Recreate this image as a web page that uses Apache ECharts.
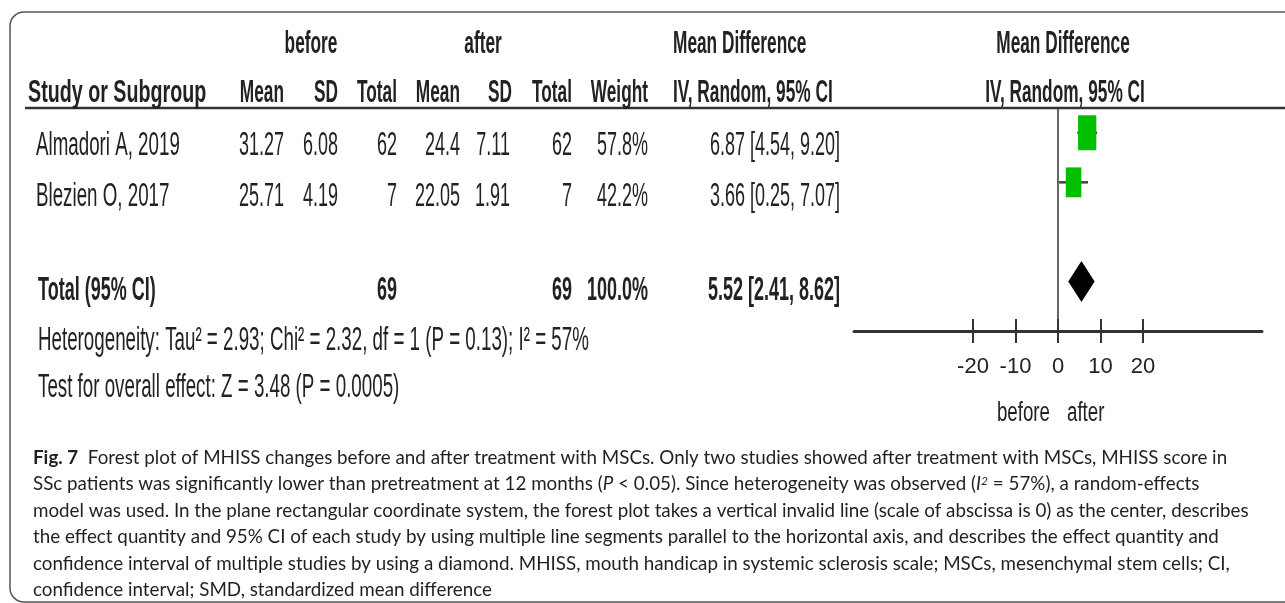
<!DOCTYPE html>
<html>
<head>
<meta charset="utf-8">
<script src="https://cdn.jsdelivr.net/npm/echarts@6/dist/echarts.min.js"></script>
<style>
  html, body { margin: 0; padding: 0; background: #fff; }
  #chart { width: 1285px; height: 603px; }
</style>
</head>
<body>
<div id="chart"></div>
<script>
// study data
const studies = ['Almadori A, 2019', 'Blezien O, 2017'];
const beforeMean = [31.27, 25.71];
const beforeSD = [6.08, 4.19];
const beforeTotal = [62, 7];
const afterMean = [24.4, 22.05];
const afterSD = [7.11, 1.91];
const afterTotal = [62, 7];
const weights = [57.8, 42.2];
const meanDiff = [6.87, 3.66];
const ciLow = [4.54, 0.25];
const ciHigh = [9.20, 7.07];

// pooled result
const pooled = [5.52, 2.41, 8.62]; // estimate, low, high
const pooledBefore = 69;
const pooledAfter = 69;
const pooledWeight = 100.0;
const heterogeneity = 'Heterogeneity: Tau² = 2.93; Chi² = 2.32, df = 1 (P = 0.13); I² = 57%';
const overallTest = 'Test for overall effect: Z = 3.48 (P = 0.0005)';

// axis
const xTicks = [-20, -10, 0, 10, 20];
const studyRows = [0, 1];
const totalRow = 3;

const captionLines = [
  '{b|Fig. 7}  Forest plot of MHISS changes before and after treatment with MSCs. Only two studies showed after treatment with MSCs, MHISS score in',
  'SSc patients was significantly lower than pretreatment at 12 months ({i|P} < 0.05). Since heterogeneity was observed ({i|I}{sup|2} = 57%), a random-effects',
  'model was used. In the plane rectangular coordinate system, the forest plot takes a vertical invalid line (scale of abscissa is 0) as the center, describes',
  'the effect quantity and 95% CI of each study by using multiple line segments parallel to the horizontal axis, and describes the effect quantity and',
  'confidence interval of multiple studies by using a diamond. MHISS, mouth handicap in systemic sclerosis scale; MSCs, mesenchymal stem cells; CI,',
  'confidence interval; SMD, standardized mean difference'
];

const chart = echarts.init(document.getElementById('chart'));

// 表格文字 (condensed + stretched like the picture)
const SX = 0.72, SY = 1.34;
const cell = (text, x, y, align, bold, size, sx) => ({
  type: 'text',
  x: x, y: y,
  scaleX: sx || SX, scaleY: SY,
  z: 10,
  style: {
    text: String(text),
    fontFamily: 'Liberation Sans',
    fontSize: size || (bold ? 24 : 25),
    fontWeight: bold ? 'bold' : 'normal',
    fill: '#222',
    align: align,
    verticalAlign: 'middle'
  }
});

// column anchors
const colX = { study: 30, bMean: 284, bSD: 338, bTot: 397, aMean: 460, aSD: 510, aTot: 572, weight: 648, ci: 840 };
const rowY = [146, 197];
const totalY = 291;

const elements = [];
// frame
elements.push({
  type: 'rect', z: 1,
  shape: { x: 10, y: 12, width: 1310, height: 590, r: 14 },
  style: { fill: 'none', stroke: '#555', lineWidth: 1.5 }
});
// header rule
elements.push({
  type: 'line', z: 5,
  shape: { x1: 25, y1: 108, x2: 1285, y2: 108 },
  style: { stroke: '#333', lineWidth: 2.5 }
});

// headers
elements.push(cell('before', 311, 44, 'center', true));
elements.push(cell('after', 483, 44, 'center', true));
elements.push(cell('Mean Difference', 673, 44, 'left', true));
elements.push(cell('Mean Difference', 1063, 44, 'center', true));
const headY = 93;
elements.push(cell('Study or Subgroup', 28, headY, 'left', true, 24, 0.82));
elements.push(cell('Mean', colX.bMean, headY, 'right', true));
elements.push(cell('SD', colX.bSD, headY, 'right', true));
elements.push(cell('Total', colX.bTot, headY, 'right', true));
elements.push(cell('Mean', colX.aMean, headY, 'right', true));
elements.push(cell('SD', 512, headY, 'right', true));
elements.push(cell('Total', colX.aTot, headY, 'right', true));
elements.push(cell('Weight', colX.weight, headY, 'right', true));
elements.push(cell('IV, Random, 95% CI', 673, headY, 'left', true));
elements.push(cell('IV, Random, 95% CI', 1065, headY, 'center', true));

// study rows
const fmtCI = (m, lo, hi) => m.toFixed(2) + ' [' + lo.toFixed(2) + ', ' + hi.toFixed(2) + ']';
studies.forEach((name, i) => {
  const y = rowY[i];
  elements.push(cell(name, 36, y, 'left', false, 25, 0.75));
  elements.push(cell(beforeMean[i], colX.bMean, y, 'right'));
  elements.push(cell(beforeSD[i].toFixed(2), colX.bSD, y, 'right'));
  elements.push(cell(beforeTotal[i], colX.bTot, y, 'right'));
  elements.push(cell(afterMean[i], colX.aMean, y, 'right'));
  elements.push(cell(afterSD[i].toFixed(2), colX.aSD, y, 'right'));
  elements.push(cell(afterTotal[i], colX.aTot, y, 'right'));
  elements.push(cell(weights[i].toFixed(1) + '%', colX.weight, y, 'right'));
  elements.push(cell(fmtCI(meanDiff[i], ciLow[i], ciHigh[i]), colX.ci, y, 'right'));
});

// total row
elements.push(cell('Total (95% CI)', 38, totalY, 'left', true, 25));
elements.push(cell(pooledBefore, colX.bTot, totalY, 'right', true, 25));
elements.push(cell(pooledAfter, colX.aTot, totalY, 'right', true, 25));
elements.push(cell(pooledWeight.toFixed(1) + '%', colX.weight, totalY, 'right', true, 25));
elements.push(cell(fmtCI(pooled[0], pooled[1], pooled[2]), colX.ci, totalY, 'right', true, 25));
elements.push(cell(heterogeneity, 38, 341, 'left', false, 25, 0.75));
elements.push(cell(overallTest, 38, 388, 'left', false, 25, 0.75));

// favours labels under the axis
const favour = (text, x, align) => ({
  type: 'text', x: x, y: 413, scaleX: 0.72, scaleY: 1.05, z: 10,
  style: { text: text, fontFamily: 'Liberation Sans', fontSize: 26, fill: '#222', align: align, verticalAlign: 'middle' }
});
elements.push(favour('before', 1050, 'right'));
elements.push(favour('after', 1067, 'left'));

// caption
const capFont = 18.8;
captionLines.forEach((line, i) => {
  elements.push({
    type: 'text', x: 33, y: 458 + i * 26.4, z: 10,
    style: {
      text: line,
      fontFamily: 'Lato',
      fontSize: capFont,
      fill: '#231f20',
      verticalAlign: 'middle',
      rich: {
        b: { fontFamily: 'Lato', fontSize: capFont, fontWeight: 'bold', fill: '#231f20' },
        i: { fontFamily: 'Lato', fontSize: capFont, fontStyle: 'italic', fill: '#231f20' },
        sup: { fontFamily: 'Lato', fontSize: 12, fontStyle: 'italic', fill: '#231f20', verticalAlign: 'top' }
      }
    }
  });
});

const axisCommon = {
  type: 'value',
  min: -48,
  max: 48,
  position: 'bottom',
  splitLine: { show: false }
};

chart.setOption({
  animation: false,
  grid: { left: 854, top: 108, width: 408, height: 223 },
  xAxis: [
    Object.assign({}, axisCommon, {
      axisLine: { show: true, onZero: false, lineStyle: { color: '#333', width: 3 } },
      axisTick: { show: true, customValues: xTicks, length: 12, lineStyle: { color: '#333', width: 2 } },
      axisLabel: {
        customValues: xTicks, margin: 25, fontSize: 22, color: '#222',
        fontFamily: "'Liberation Sans Narrow', 'Liberation Sans'"
      }
    }),
    Object.assign({}, axisCommon, {
      axisLine: { show: false, onZero: false },
      axisTick: { show: true, inside: true, customValues: xTicks, length: 12, lineStyle: { color: '#333', width: 2 } },
      axisLabel: { show: false }
    })
  ],
  yAxis: {
    type: 'value',
    inverse: true,
    min: -0.5,
    max: 4,
    axisLine: { show: true, onZero: true, lineStyle: { color: '#333', width: 1.5 } },
    axisTick: { show: false },
    axisLabel: { show: false },
    splitLine: { show: false }
  },
  series: [
    {
      // CI whiskers
      type: 'custom',
      data: studies.map((s, i) => [ciLow[i], ciHigh[i], studyRows[i]]),
      encode: { x: [0, 1], y: 2 },
      renderItem: (params, api) => {
        const a = api.coord([api.value(0), api.value(2)]);
        const b = api.coord([api.value(1), api.value(2)]);
        return {
          type: 'line',
          shape: { x1: a[0], y1: a[1], x2: b[0], y2: b[1] },
          style: { stroke: '#444', lineWidth: 2.5 }
        };
      }
    },
    {
      // weighted squares
      type: 'scatter',
      symbol: 'rect',
      data: meanDiff.map((v, i) => [v, studyRows[i], weights[i]]),
      symbolSize: d => [2.4 * Math.sqrt(d[2]), 4.6 * Math.sqrt(d[2])],
      itemStyle: { color: '#00c000', opacity: 1 },
      z: 3
    },
    {
      // pooled diamond
      type: 'custom',
      data: [[pooled[1], pooled[0], pooled[2], totalRow]],
      encode: { x: [0, 1, 2], y: 3 },
      renderItem: (params, api) => {
        const lo = api.coord([api.value(0), api.value(3)]);
        const mid = api.coord([api.value(1), api.value(3)]);
        const hi = api.coord([api.value(2), api.value(3)]);
        const h = 20.5;
        return {
          type: 'polygon',
          shape: { points: [[lo[0], lo[1]], [mid[0], mid[1] - h], [hi[0], hi[1]], [mid[0], mid[1] + h]] },
          style: { fill: '#000' }
        };
      }
    }
  ],
  graphic: { elements: elements }
});
</script>
</body>
</html>
